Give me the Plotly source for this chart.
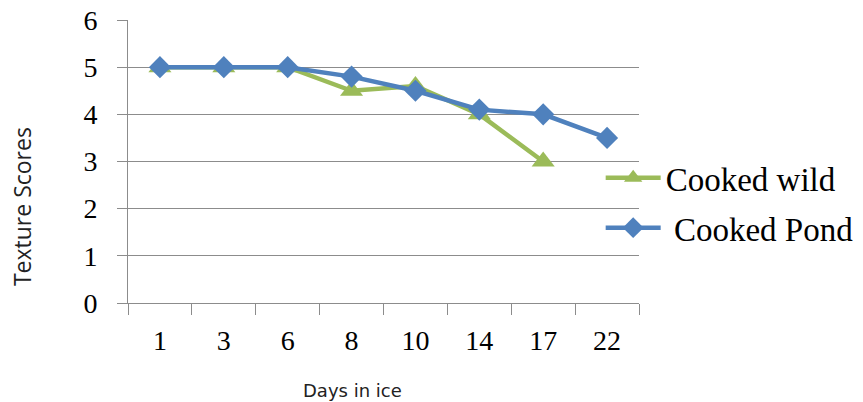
import plotly.graph_objects as go

days = ["1", "3", "6", "8", "10", "14", "17", "22"]
cooked_wild = [5, 5, 5, 4.5, 4.6, 4.0, 3.0, None]
cooked_pond = [5, 5, 5, 4.8, 4.5, 4.1, 4.0, 3.5]
y_ticks = [0, 1, 2, 3, 4, 5, 6]

GREEN = "#9BBB59"
BLUE = "#4F81BD"
GRID = "#8C8C8C"

fig = go.Figure()
fig.add_trace(go.Scatter(
    x=days, y=cooked_wild, name="Cooked wild", mode="lines+markers",
    line=dict(color=GREEN, width=4.5),
    marker=dict(symbol="triangle-up", size=20, color=GREEN),
    legendgroup="a",
))
fig.add_trace(go.Scatter(
    x=days, y=cooked_pond, name=" Cooked Pond", mode="lines+markers",
    line=dict(color=BLUE, width=4.5),
    marker=dict(symbol="diamond", size=17, color=BLUE),
    legendgroup="b",
))

fig.update_layout(
    width=863, height=402,
    margin=dict(l=128, r=224, t=20, b=99, autoexpand=False),
    paper_bgcolor="white", plot_bgcolor="white",
    font=dict(family="Liberation Serif", color="black"),
    legend=dict(
        x=0.925, y=0.354, xanchor="left", yanchor="middle",
        font=dict(family="Liberation Serif", size=33, color="black"),
        bgcolor="rgba(0,0,0,0)", itemwidth=55, tracegroupgap=4,
    ),
    xaxis=dict(
        type="category", categoryorder="array", categoryarray=days,
        range=[-0.5, 7.5], showgrid=False, automargin=False,
        showline=True, linecolor=GRID, linewidth=1,
        ticks="outside", tickson="boundaries", ticklen=11, tickcolor=GRID,
        tickfont=dict(family="Liberation Serif", size=28, color="black"),
        ticklabelstandoff=12,
    ),
    yaxis=dict(
        range=[0, 6], tickvals=y_ticks, automargin=False,
        showgrid=True, gridcolor=GRID, gridwidth=1,
        showline=True, linecolor=GRID, linewidth=1,
        ticks="outside", ticklen=10, tickcolor=GRID,
        tickfont=dict(family="Liberation Serif", size=28, color="black"),
        ticklabelstandoff=14, zeroline=False, ticklabeloverflow="allow",
    ),
    annotations=[
        dict(text="Days in ice", xref="paper", yref="paper", x=0.44, y=-0.31,
             xanchor="center", yanchor="middle", showarrow=False,
             font=dict(family="DejaVu Sans", size=18, color="#222")),
        dict(text="Texture Scores", xref="paper", yref="paper", x=-0.2074, y=0.339,
             xanchor="center", yanchor="middle", showarrow=False, textangle=-90,
             font=dict(family="Open Sans", size=23, color="#222")),
    ],
)

fig.write_html(
    "out.html",
    config={"displayModeBar": False},
    post_script="document.body.style.margin='0';document.body.style.padding='0';",
)
